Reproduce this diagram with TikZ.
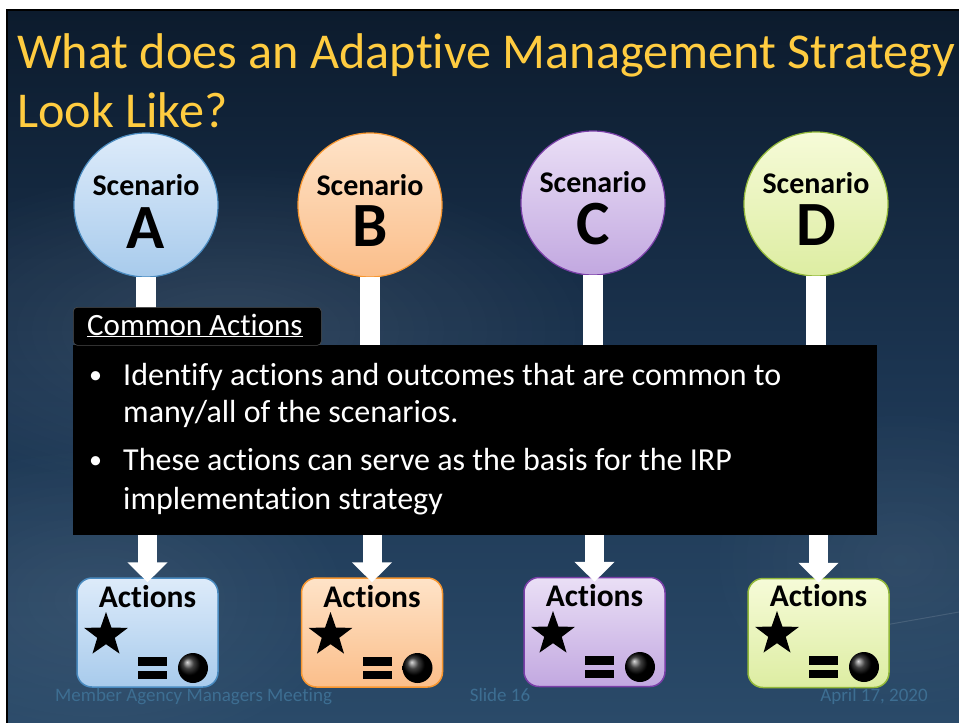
\documentclass[tikz,border=0pt]{standalone}
\usepackage{fontspec}
\setmainfont{Carlito}[Ligatures=NoCommon]
\usetikzlibrary{shapes.geometric,arrows.meta,shadings,fadings}
\tikzfading[name=softglow, inner color=transparent!0, outer color=transparent!100]
\definecolor{bgtop}{HTML}{0C1B2D}
\definecolor{bgmid}{HTML}{1B3450}
\definecolor{bgbot}{HTML}{2A4A69}
\definecolor{titlecol}{HTML}{FFCC40}
\definecolor{footcol}{HTML}{3D6E92}
\definecolor{aTop}{HTML}{DDEBFA}\definecolor{aBot}{HTML}{A8CBEC}\definecolor{aLine}{HTML}{4A8BC0}
\definecolor{bTop}{HTML}{FEE3C8}\definecolor{bBot}{HTML}{FBBE8A}\definecolor{bLine}{HTML}{F7962F}
\definecolor{cTop}{HTML}{EADFF6}\definecolor{cBot}{HTML}{C2A8E0}\definecolor{cLine}{HTML}{7A3FA8}
\definecolor{dTop}{HTML}{F6FBD8}\definecolor{dBot}{HTML}{DDEDA2}\definecolor{dLine}{HTML}{92B83A}
\tikzset{
  scen/.style={circle, minimum size=144pt, inner sep=0pt, line width=1.2pt},
  actbox/.style={rectangle, rounded corners=15pt, minimum width=141pt, minimum height=109pt, inner sep=0pt, line width=1.5pt},
  scentext/.style={font=\fontsize{30}{32}\selectfont\bfseries, anchor=base, text=black},
  lettertext/.style={font=\fontsize{63}{63}\selectfont\bfseries, anchor=base, text=black},
  acttext/.style={font=\fontsize{31.5}{33}\selectfont\bfseries, anchor=base, text=black},
  bullettext/.style={font=\fontsize{32}{36}\selectfont, anchor=base west, text=white, inner sep=0pt},
  titletext/.style={font=\fontsize{50.2}{59}\selectfont, anchor=base west, text=titlecol, inner sep=0pt},
  foottext/.style={font=\fontsize{19}{21}\selectfont, anchor=base, text=footcol, inner sep=0pt},
  stem/.style={white, line width=20pt},
  downarrow/.style={white, line width=19pt, -{Triangle[width=39pt,length=20pt]}},
  startip/.style={star, star points=5, star point ratio=2.5, fill=black, minimum size=46pt, inner sep=0pt},
  eqbar/.style={fill=black, minimum width=29pt, minimum height=8.5pt, inner sep=0pt},
  blackball/.style={circle, ball color=black, minimum size=30pt, inner sep=0pt}
}
\begin{document}
\begin{tikzpicture}[x=1pt,y=-1pt]
\useasboundingbox (0,0) rectangle (959,723);
\fill[white] (0,0) rectangle (959,723);
% background
\shade[top color=bgtop, bottom color=bgbot, middle color=bgmid] (7,9) rectangle (959,723);
\begin{scope}
\clip (7,9) rectangle (959,723);
\fill[white, opacity=0.10, path fading=softglow] (230,330) ellipse (380 and 170);
\fill[white, opacity=0.08, path fading=softglow] (100,600) ellipse (260 and 160);
\fill[white, opacity=0.06, path fading=softglow] (900,560) ellipse (200 and 160);
\draw[white, opacity=0.12, line width=1pt] (800,640) -- (959,612);
\end{scope}
\draw[black, line width=2.5pt] (7,723) -- (7,10) -- (959,10);
% title
\node[titletext] (t1) at (17,68) {What does an Adaptive Management Strategy};
\node[titletext] (t2) at (17,127) {Look Like?};
% scenario circles
\node[scen, top color=aTop, bottom color=aBot, draw=aLine] (cA) at (146,205) {};
\node[scen, top color=bTop, bottom color=bBot, draw=bLine] (cB) at (370,205) {};
\node[scen, top color=cTop, bottom color=cBot, draw=cLine] (cC) at (593,203) {};
\node[scen, top color=dTop, bottom color=dBot, draw=dLine] (cD) at (816,204) {};
\node[scentext] (sA) at (146,195) {Scenario};
\node[lettertext] (lA) at (146,248) {A};
\node[scentext] (sB) at (370,195) {Scenario};
\node[lettertext] (lB) at (370,246) {B};
\node[scentext] (sC) at (593,192) {Scenario};
\node[lettertext] (lC) at (593,244) {C};
\node[scentext] (sD) at (816,193) {Scenario};
\node[lettertext] (lD) at (816,245) {D};
% black box
\node[fill=black, rectangle, anchor=north west, minimum width=804pt, minimum height=190pt, inner sep=0pt] (box) at (73,345) {};
% stems
\draw[stem] ([yshift=1pt]cA.south) -- (cA.south |- box.north);
\draw[stem] ([yshift=1pt]cB.south) -- (cB.south |- box.north);
\draw[stem] ([yshift=1pt]cC.south) -- (cC.south |- box.north);
\draw[stem] ([yshift=1pt]cD.south) -- (cD.south |- box.north);
% tab
\node[fill=black, draw=black!70, line width=0.6pt, rounded corners=4pt, anchor=north west, minimum width=248pt, minimum height=38pt, inner sep=0pt] (tab) at (73,307) {};
\node[font=\fontsize{31}{33}\selectfont, text=white, anchor=base west, inner sep=0pt] (tabt) at (87,335) {\underline{Common Actions}};
% bullets
\node[bullettext, font=\fontsize{26}{30}\selectfont] (b1) at (89,383) {•};
\node[bullettext] (l1) at (123,385) {Identify actions and outcomes that are common to};
\node[bullettext] (l2) at (123,422) {many/all of the scenarios.};
\node[bullettext, font=\fontsize{26}{30}\selectfont] (b2) at (89,468) {•};
\node[bullettext] (l3) at (123,470) {These actions can serve as the basis for the IRP};
\node[bullettext] (l4) at (123,509) {implementation strategy};
% action boxes
\node[actbox, top color=aTop, bottom color=aBot, draw=aLine] (aA) at (147.5,632.5) {};
\node[actbox, top color=bTop, bottom color=bBot, draw=bLine] (aB) at (372,632.5) {};
\node[actbox, top color=cTop, bottom color=cBot, draw=cLine] (aC) at (594.5,632) {};
\node[actbox, top color=dTop, bottom color=dBot, draw=dLine] (aD) at (818.5,633) {};
% arrows
\draw[downarrow] (aA.north |- box.south) -- ([yshift=-5pt]aA.north);
\draw[downarrow] (aB.north |- box.south) -- ([yshift=-5pt]aB.north);
\draw[downarrow] (aC.north |- box.south) -- ([yshift=-5pt]aC.north);
\draw[downarrow] (aD.north |- box.south) -- ([yshift=-5pt]aD.north);
% action box contents
\foreach \n/\x/\y in {A/147.5/607, B/372/607, C/594.5/606, D/818.5/606}{
  \node[acttext] (act\n) at (\x,\y) {Actions};
  \node[startip] (star\n) at (\x-41.5,\y+28) {};
  \node[eqbar] (eqa\n) at (\x+5,\y+54.5) {};
  \node[eqbar] (eqb\n) at (\x+5,\y+68) {};
  \node[blackball] (ball\n) at (\x+45.5,\y+61) {};
}
% footer
\node[foottext] (f1) at (193.5,701) {Member Agency Managers Meeting};
\node[foottext] (f2) at (500,701) {Slide 16};
\node[foottext] (f3) at (874,701) {April 17, 2020};
\end{tikzpicture}
\end{document}
